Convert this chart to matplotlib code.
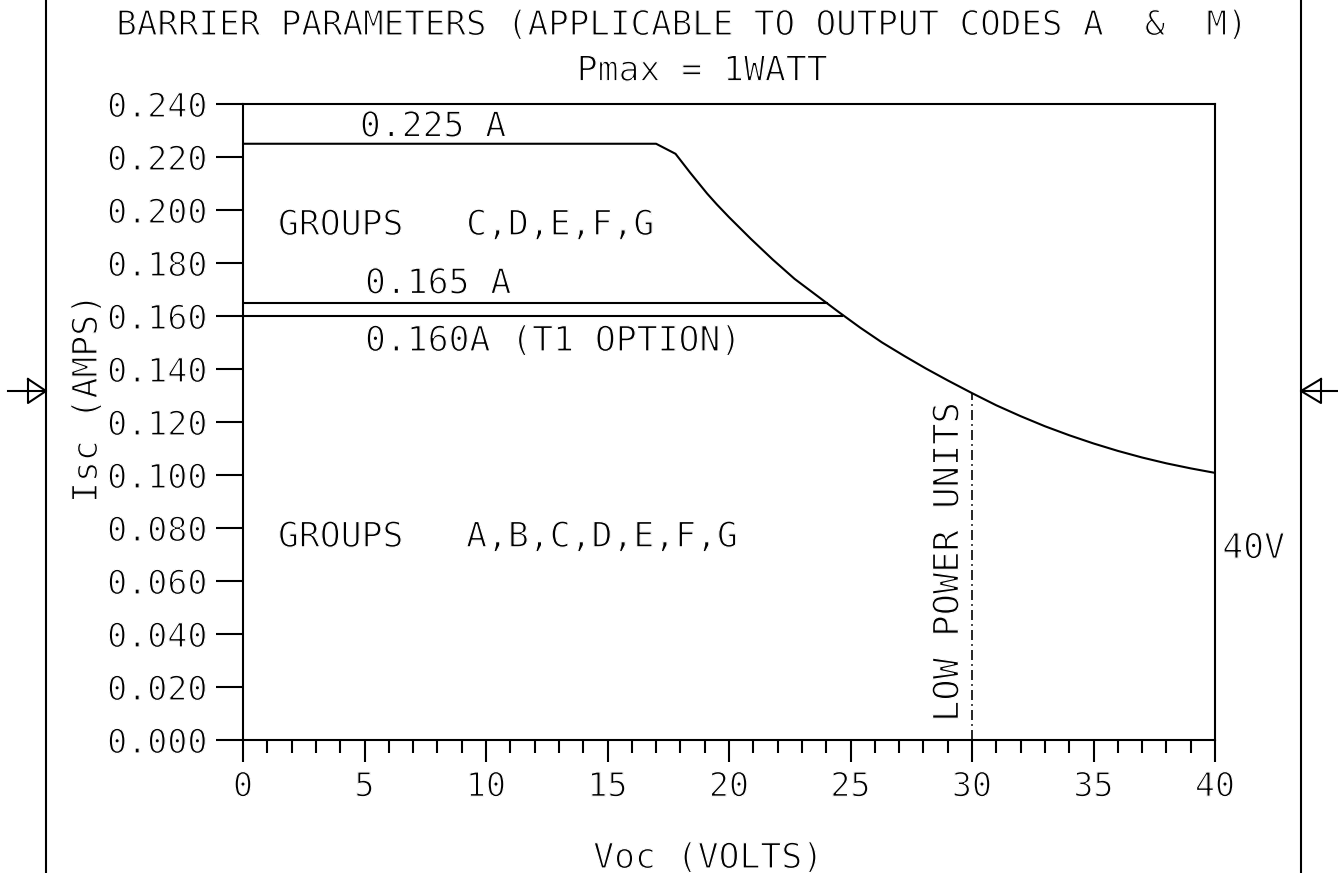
import numpy as np
import matplotlib
import matplotlib.pyplot as plt
import matplotlib.patheffects as pe

matplotlib.use('Agg')

W, H = 1338, 873

# barrier limit curve (Voc in volts, Isc in amps)
voc = [0, 17.0, 17.8, 18.4, 19.1, 19.5, 20.0, 20.9, 21.8, 22.7, 23.6, 24.5,
       25.4, 26.3, 27.2, 28.1, 29.0, 30.0, 31.0, 32.0, 33.0, 34.0, 35.0,
       36.0, 37.0, 38.0, 39.0, 40.0]
isc = [0.225, 0.225, 0.2212, 0.2141, 0.2062, 0.2021, 0.1973, 0.1891, 0.1813,
       0.1740, 0.1678, 0.1616, 0.1556, 0.1500, 0.1450, 0.1402, 0.1357,
       0.1309, 0.1263, 0.1222, 0.1184, 0.1150, 0.1119, 0.1091, 0.1066,
       0.1044, 0.1025, 0.1008]

# group C-G / T1 option current limits and where they meet the curve
limit_levels = [0.165, 0.160]
limit_ends = [24.05, 24.64]

low_power_v = 30.0
low_power_top = 0.1309

x_major = list(range(0, 41, 5))
x_minor = list(range(0, 41, 1))
y_ticks = [0.000, 0.020, 0.040, 0.060, 0.080, 0.100, 0.120, 0.140,
           0.160, 0.180, 0.200, 0.220, 0.240]

FS = 25
TICK_FS = 24
plt.rcParams['font.family'] = ['DejaVu Sans Mono']
plt.rcParams['font.size'] = FS

# thin the glyph strokes a little, plotter style
thin = [pe.Normal(), pe.Stroke(linewidth=0.9, foreground='white')]


def px(x, y):
    # figure pixel (top-left origin) -> figure fraction
    return x / W, 1 - y / H


fig = plt.figure(figsize=(W / 100, H / 100), dpi=100)
fig.patch.set_facecolor('white')

# drawing border with the centre arrows
frame = fig.add_axes([0, 0, 1, 1], zorder=0)
frame.set_xlim(0, W)
frame.set_ylim(H, 0)
frame.axis('off')
for xb in (46, 1301):
    frame.plot([xb, xb], [0, H], color='black', lw=1.5)
frame.plot([8, 46], [391, 391], color='black', lw=1.5)
frame.plot([28, 46, 28, 28], [379, 391, 403, 379], color='black', lw=1.5)
frame.plot([1301, 1338], [391, 391], color='black', lw=1.5)
frame.plot([1321, 1301, 1321, 1321], [379, 391, 403, 379], color='black', lw=1.5)

l, b = px(243, 740)
r, t = px(1215, 104)
ax = fig.add_axes([l, b, r - l, t - b], zorder=1)
ax.set_xlim(0, 40)
ax.set_ylim(0, 0.24)

ax.plot(voc, isc, color='black', lw=1.5, solid_joinstyle='round')
for lev, end in zip(limit_levels, limit_ends):
    ax.plot([0, end], [lev, lev], color='black', lw=1.5)
ax.plot([low_power_v, low_power_v], [0, low_power_top], color='black',
        lw=1.2, dashes=(6, 2.5, 1, 2.5))

for s in ax.spines.values():
    s.set_linewidth(1.5)

ax.set_xticks(x_major)
ax.set_xticks(x_minor, minor=True)
ax.set_yticks(y_ticks)
ax.set_xticklabels([str(v) for v in x_major])
ax.set_yticklabels(['%.3f' % v for v in y_ticks])
ax.tick_params(axis='x', which='major', direction='out', length=15.8,
               width=1.5, pad=6, labelsize=TICK_FS)
ax.tick_params(axis='x', which='minor', direction='out', length=9.4,
               width=1.5)
ax.tick_params(axis='y', which='major', direction='out', length=19.4,
               width=1.5, pad=6, labelsize=TICK_FS)
for lab in ax.get_xticklabels() + ax.get_yticklabels():
    lab.set_path_effects(thin)

# region notes
notes = [
    (4.81, 0.2277, '0.225 A'),
    (1.44, 0.1906, 'GROUPS   C,D,E,F,G'),
    (5.02, 0.1685, '0.165 A'),
    (5.02, 0.1468, '0.160A (T1 OPTION)'),
    (1.44, 0.0729, 'GROUPS   A,B,C,D,E,F,G'),
    (40.3, 0.0686, '40V'),
]
for x, y, s in notes:
    ax.text(x, y, s, ha='left', va='baseline', path_effects=thin)
ax.text(29.44, 0.0068, 'LOW POWER UNITS', rotation=90, rotation_mode='anchor',
        ha='left', va='baseline', fontsize=25.5, path_effects=thin)

fig.text(*px(680, 35), 'BARRIER PARAMETERS (APPLICABLE TO OUTPUT CODES A  &  M)',
         ha='center', va='baseline', fontsize=24.6, path_effects=thin)
fig.text(*px(702, 80.7), 'Pmax = 1WATT', ha='center', va='baseline',
         path_effects=thin)
fig.text(*px(708, 868), 'Voc (VOLTS)', ha='center', va='baseline',
         path_effects=thin)
fig.text(*px(97, 503), 'Isc (AMPS)', rotation=90, rotation_mode='anchor',
         ha='left', va='baseline', path_effects=thin)

fig.savefig('out.png', dpi=100)
